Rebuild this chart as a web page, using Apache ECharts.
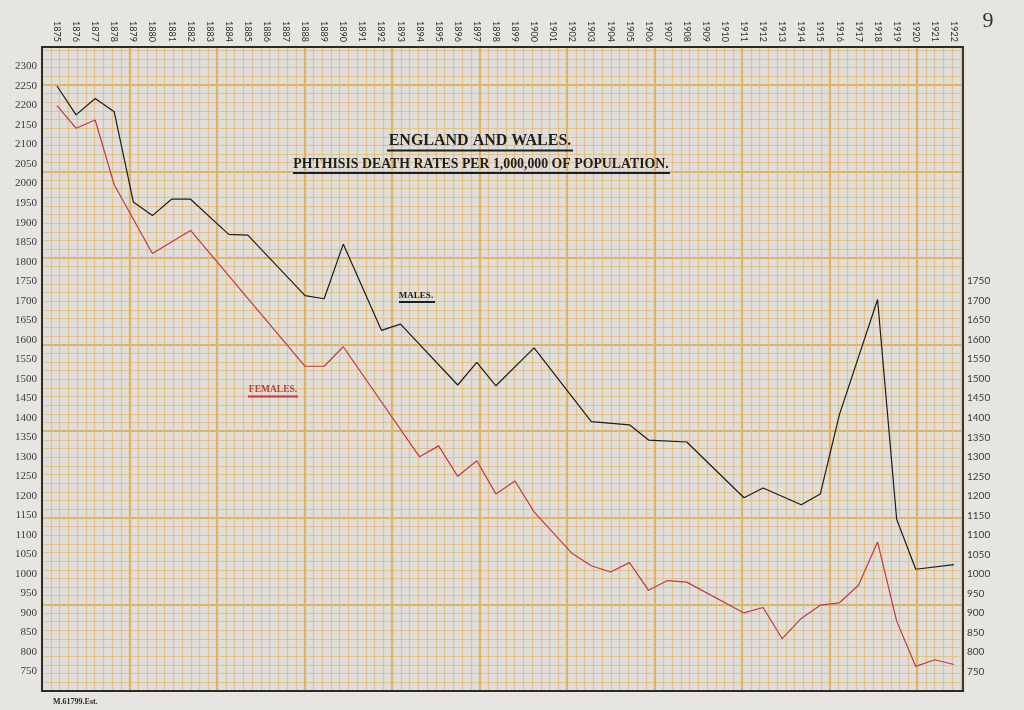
<!DOCTYPE html>
<html><head><meta charset="utf-8">
<script src="https://cdn.jsdelivr.net/npm/echarts@6/dist/echarts.min.js"></script>
<style>html,body{margin:0;padding:0;background:#e6e5e1;}#c{width:1024px;height:710px;}</style>
</head><body><div id="c"></div>
<script>
// ---- data ----
const maleYears = [1875,1876,1877,1878,1879,1880,1881,1882,1884,1885,1888,1889,1890,1892,1893,1896,1897,1898,1900,1903,1905,1906,1908,1911,1912,1914,1915,1916,1918,1919,1920,1922];
const maleRates = [2250,2176,2218,2184,1953,1918,1960,1960,1870,1868,1713,1705,1845,1624,1640,1484,1542,1482,1579,1390,1382,1343,1338,1195,1220,1177,1205,1408,1703,1140,1012,1024];
const femaleYears = [1875,1876,1877,1878,1880,1882,1888,1889,1890,1894,1895,1896,1897,1898,1899,1900,1902,1903,1904,1905,1906,1907,1908,1911,1912,1913,1914,1915,1916,1917,1918,1919,1920,1921,1922];
const femaleRates = [2200,2142,2163,1997,1821,1880,1532,1532,1582,1300,1328,1250,1290,1205,1238,1159,1052,1021,1005,1029,958,983,979,900,914,834,886,920,926,971,1082,879,763,780,768];
const yearFirst = 1875, yearLast = 1922;
const leftTickMin = 750, leftTickMax = 2300, tickStep = 50;
const rightTickMin = 750, rightTickMax = 1750;
const titleLine1 = 'ENGLAND AND WALES.';
const titleLine2 = 'PHTHISIS DEATH RATES PER 1,000,000 OF POPULATION.';
const maleLabel = 'MALES.';
const femaleLabel = 'FEMALES.';
const printRef = 'M.61799.Est.';
const pageNo = '9';

const males = maleYears.map((y, i) => [y, maleRates[i]]);
const females = femaleYears.map((y, i) => [y, femaleRates[i]]);

const chart = echarts.init(document.getElementById('c'), null, {renderer: 'canvas'});
const minorCol = 'rgba(226,188,122,0.8)';
const majorCol = 'rgb(224,180,98)';
const frameCol = '#2a2a2a';
const sansFont = 'Lato, "Open Sans", sans-serif';
const serifFont = '"Liberation Serif", "DejaVu Serif", serif';
const hidden = {axisLine:{show:false}, axisTick:{show:false}, axisLabel:{show:false}};
function paperAxis(grid, max, interval, col, w, pos) {
  return Object.assign({type:'value', gridIndex:grid, min:0, max:max, interval:interval, position:pos, z:0,
    splitLine:{show:true, lineStyle:{color:col, width:w}}}, hidden);
}
function frameAxis(pos) {
  return {type:'value', gridIndex:0, min:0, max:1, position:pos, z:6,
    axisLine:{show:true, onZero:false, lineStyle:{color:frameCol, width:1.8}},
    axisTick:{show:false}, axisLabel:{show:false}, splitLine:{show:false}};
}
const option = {
  animation: false,
  backgroundColor: '#e6e5e1',
  grid: [
    {left:42, top:47, width:921, height:644, show:true, backgroundColor:'#e0dedb', borderWidth:0},
    {left:37.9, top:47, width:935.1, height:644, show:false}
  ],
  xAxis: [
    paperAxis(0, 921, 8.75, minorCol, 1.2, 'bottom'),
    paperAxis(0, 921, 87.5, majorCol, 2.2, 'bottom'),
    frameAxis('bottom'),
    frameAxis('top'),
    {type:'value', gridIndex:1, position:'top', min:yearFirst-1, max:yearLast+1, interval:1,
      axisLine:{show:false, onZero:false}, axisTick:{show:false}, splitLine:{show:false},
      axisLabel:{rotate:90, margin:5, fontFamily:sansFont, fontSize:9, color:'#2e2e2e',
        formatter: v => (v >= yearFirst && v <= yearLast) ? String(v) : ''}}
  ],
  yAxis: [
    paperAxis(0, 644, 8.66, minorCol, 1.2, 'left'),
    paperAxis(0, 644, 86.6, majorCol, 2.2, 'left'),
    {type:'value', gridIndex:0, position:'left', min:700, max:2350, interval:tickStep, z:6,
      axisLine:{show:true, onZero:false, lineStyle:{color:frameCol, width:2}}, axisTick:{show:false}, splitLine:{show:false},
      axisLabel:{margin:5, fontFamily:serifFont, fontSize:11, color:'#3a3a3a',
        formatter: v => (v >= leftTickMin && v <= leftTickMax) ? String(v) : ''}},
    {type:'value', gridIndex:0, position:'right', min:700, max:2350, interval:tickStep, z:6,
      axisLine:{show:true, onZero:false, lineStyle:{color:frameCol, width:1.8}}, axisTick:{show:false}, splitLine:{show:false},
      axisLabel:{margin:4, fontFamily:sansFont, fontSize:10, color:'#3a3a3a',
        formatter: v => (v >= rightTickMin && v <= rightTickMax) ? String(v) : ''}},
    {type:'value', gridIndex:1, min:700, max:2350, show:false}
  ],
  series: [
    {name:'Males', type:'line', xAxisIndex:4, yAxisIndex:4, data:males, symbol:'none', z:4,
      lineStyle:{color:'#1c1c1c', width:1.2}},
    {name:'Females', type:'line', xAxisIndex:4, yAxisIndex:4, data:females, symbol:'none', z:4,
      lineStyle:{color:'#c23a3a', width:1.2}}
  ],
  graphic: [
    {type:'text', x:480, y:141, z:10, style:{text:titleLine1, font:'bold 16px "Liberation Serif", serif', fill:'#1e1e1e', align:'center', verticalAlign:'middle'}},
    {type:'rect', z:10, shape:{x:387, y:149.5, width:186, height:2}, style:{fill:'#1e1e1e'}},
    {type:'text', x:481, y:164.5, scaleX:0.92, z:10, style:{text:titleLine2, font:'bold 15px "Liberation Serif", serif', fill:'#1e1e1e', align:'center', verticalAlign:'middle'}},
    {type:'rect', z:10, shape:{x:293, y:172, width:377, height:2}, style:{fill:'#1e1e1e'}},
    {type:'text', x:416, y:296, z:10, style:{text:maleLabel, font:'bold 9px "Liberation Serif", serif', fill:'#1e1e1e', align:'center', verticalAlign:'middle'}},
    {type:'rect', z:10, shape:{x:399, y:301, width:36, height:2}, style:{fill:'#1e1e1e'}},
    {type:'text', x:273, y:390, z:10, style:{text:femaleLabel, font:'bold 9.5px "Liberation Serif", serif', fill:'#c23a3a', align:'center', verticalAlign:'middle'}},
    {type:'rect', z:10, shape:{x:248, y:395.5, width:50, height:2}, style:{fill:'#c23a3a'}},
    {type:'text', x:53, y:702, z:10, style:{text:printRef, font:'bold 8px "Liberation Serif", serif', fill:'#2a2a2a', align:'left', verticalAlign:'middle'}},
    {type:'text', x:988, y:21, z:10, style:{text:pageNo, font:'22px "Liberation Serif", serif', fill:'#333', align:'center', verticalAlign:'middle'}}
  ]
};
chart.setOption(option);
</script></body></html>
